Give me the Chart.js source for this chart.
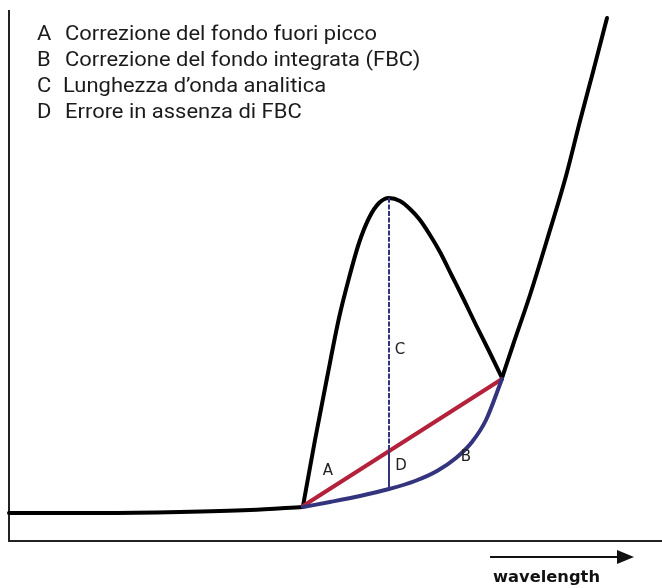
<!DOCTYPE html>
<html>
<head>
<meta charset="utf-8">
<title>Correzione del fondo</title>
<script src="https://cdn.jsdelivr.net/npm/chart.js@4.4.1/dist/chart.umd.min.js"></script>
<style>
    html, body { margin: 0; padding: 0; background: #fff; }
    #wrap { width: 662px; height: 588px; }
</style>
</head>
<body>
<div id="wrap"><canvas id="fbcChart" width="662" height="588"></canvas></div>
<script>
// ===== DATA (wavelength / intensity, arbitrary units) =====
const baseX = [0, 91, 171, 241, 294];
const baseY = [28, 28, 29, 31, 34];

const peakX = [294, 306, 318, 330, 340, 350, 360, 370, 380, 391, 401, 411, 421, 431, 443, 455, 467, 480, 493];
const peakY = [35, 101, 163, 223, 263, 298, 323, 338, 343, 340, 332, 321, 306, 289, 265, 241, 216, 190, 163];

const riseX = [493, 504, 521, 538, 557, 571, 584, 598];
const riseY = [163, 196, 246, 301, 365, 420, 469, 523];

// B: integrated background correction (curved)
const fbcX = [294, 321, 351, 380, 406, 428, 447, 463, 477, 493];
const fbcY = [34, 39, 45, 52, 60, 70, 83, 99, 121, 162];

// A: off-peak background correction (straight)
const offPeakX = [294, 493];
const offPeakY = [35, 162];

// C: analytical wavelength
const analyticX = 380;
const analyticTop = 343;
const analyticCross = 90;
const analyticBottom = 52;

// letters on the plot
const markLetters = ['C', 'A', 'D', 'B'];
const markX = [391, 319, 392, 457];
const markY = [191, 70, 75, 84];

// legend
const legendLetters = ['A', 'B', 'C', 'D'];
const legendTexts = [
    'Correzione del fondo fuori picco',
    'Correzione del fondo integrata (FBC)',
    'Lunghezza d\u2019onda analitica',
    'Errore in assenza di FBC'
];
const axisLabel = 'wavelength';

// ===== HELPERS =====
function toPoints(xs, ys) {
    return xs.map((x, i) => ({ x: x, y: ys[i] }));
}

function lineSet(xs, ys, color, width, extra) {
    return Object.assign({
        data: toPoints(xs, ys),
        showLine: true,
        borderColor: color,
        borderWidth: width,
        pointRadius: 0,
        fill: false,
        cubicInterpolationMode: 'monotone',
        borderCapStyle: 'round',
        borderJoinStyle: 'round',
        clip: false
    }, extra || {});
}

// stretch text horizontally so it fills a given width
function fitText(ctx, text, x, y, width) {
    const w = ctx.measureText(text).width;
    ctx.save();
    ctx.translate(x, y);
    ctx.scale(width / w, 1);
    ctx.fillText(text, 0, 0);
    ctx.restore();
}

function squeezedText(ctx, text, x, y, sx) {
    ctx.save();
    ctx.translate(x, y);
    ctx.scale(sx, 1);
    ctx.fillText(text, 0, 0);
    ctx.restore();
}

const decorPlugin = {
    id: 'decor',
    beforeDatasetsDraw(chart) {
        const ctx = chart.ctx;
        const a = chart.chartArea;
        ctx.save();
        ctx.strokeStyle = '#222';
        ctx.lineWidth = 2;
        ctx.beginPath();
        ctx.moveTo(a.left, a.top);
        ctx.lineTo(a.left, a.bottom);
        ctx.lineTo(a.right, a.bottom);
        ctx.stroke();
        ctx.restore();
    },
    afterDraw(chart) {
        const ctx = chart.ctx;
        const xs = chart.scales.x;
        const ys = chart.scales.y;
        ctx.save();

        // legend block (condensed look)
        ctx.fillStyle = '#1c1a1b';
        ctx.textBaseline = 'alphabetic';
        ctx.font = '21px Roboto, "Liberation Sans", sans-serif';
        const squeeze = 312 / ctx.measureText(legendTexts[0]).width;
        legendTexts.forEach((t, i) => {
            const by = 40 + i * 26;
            squeezedText(ctx, legendLetters[i], 37, by, squeeze);
            squeezedText(ctx, t, i === 2 ? 63 : 65, by, squeeze);
        });

        // letters on the curves
        ctx.font = '15px "DejaVu Sans", Verdana, sans-serif';
        ctx.fillStyle = '#222';
        ctx.textAlign = 'center';
        ctx.textBaseline = 'middle';
        markLetters.forEach((l, i) => {
            ctx.fillText(l, xs.getPixelForValue(markX[i]), ys.getPixelForValue(markY[i]));
        });

        // wavelength arrow
        ctx.strokeStyle = '#111';
        ctx.fillStyle = '#111';
        ctx.lineWidth = 2;
        ctx.beginPath();
        ctx.moveTo(490, 557);
        ctx.lineTo(620, 557);
        ctx.stroke();
        ctx.beginPath();
        ctx.moveTo(634, 557);
        ctx.lineTo(617, 550);
        ctx.lineTo(617, 564);
        ctx.closePath();
        ctx.fill();

        ctx.font = 'bold 15px "DejaVu Sans", Verdana, sans-serif';
        ctx.textAlign = 'left';
        ctx.textBaseline = 'alphabetic';
        fitText(ctx, axisLabel, 493, 582, 107);

        ctx.restore();
    }
};

function loadChart() {
    const ctx = document.getElementById('fbcChart');
    const navy = '#34347e';

    new Chart(ctx, {
        type: 'scatter',
        data: {
            datasets: [
                lineSet([analyticX, analyticX], [analyticTop, analyticCross], navy, 2, { borderDash: [5, 1.5], borderCapStyle: 'butt' }),
                lineSet([analyticX, analyticX], [analyticCross, analyticBottom], navy, 2, { borderCapStyle: 'butt' }),
                lineSet(fbcX, fbcY, navy, 4),
                lineSet(offPeakX, offPeakY, '#b3213b', 4),
                lineSet(baseX, baseY, '#000', 4),
                lineSet(peakX, peakY, '#000', 4),
                lineSet(riseX, riseY, '#000', 4)
            ]
        },
        options: {
            responsive: false,
            animation: false,
            layout: { padding: { left: 9, right: 0, top: 10, bottom: 47 } },
            plugins: {
                legend: { display: false },
                tooltip: { enabled: false }
            },
            scales: {
                x: { type: 'linear', min: 0, max: 653, display: false },
                y: { type: 'linear', min: 0, max: 531, display: false }
            }
        },
        plugins: [decorPlugin]
    });
}

document.addEventListener('DOMContentLoaded', loadChart);
</script>
</body>
</html>
